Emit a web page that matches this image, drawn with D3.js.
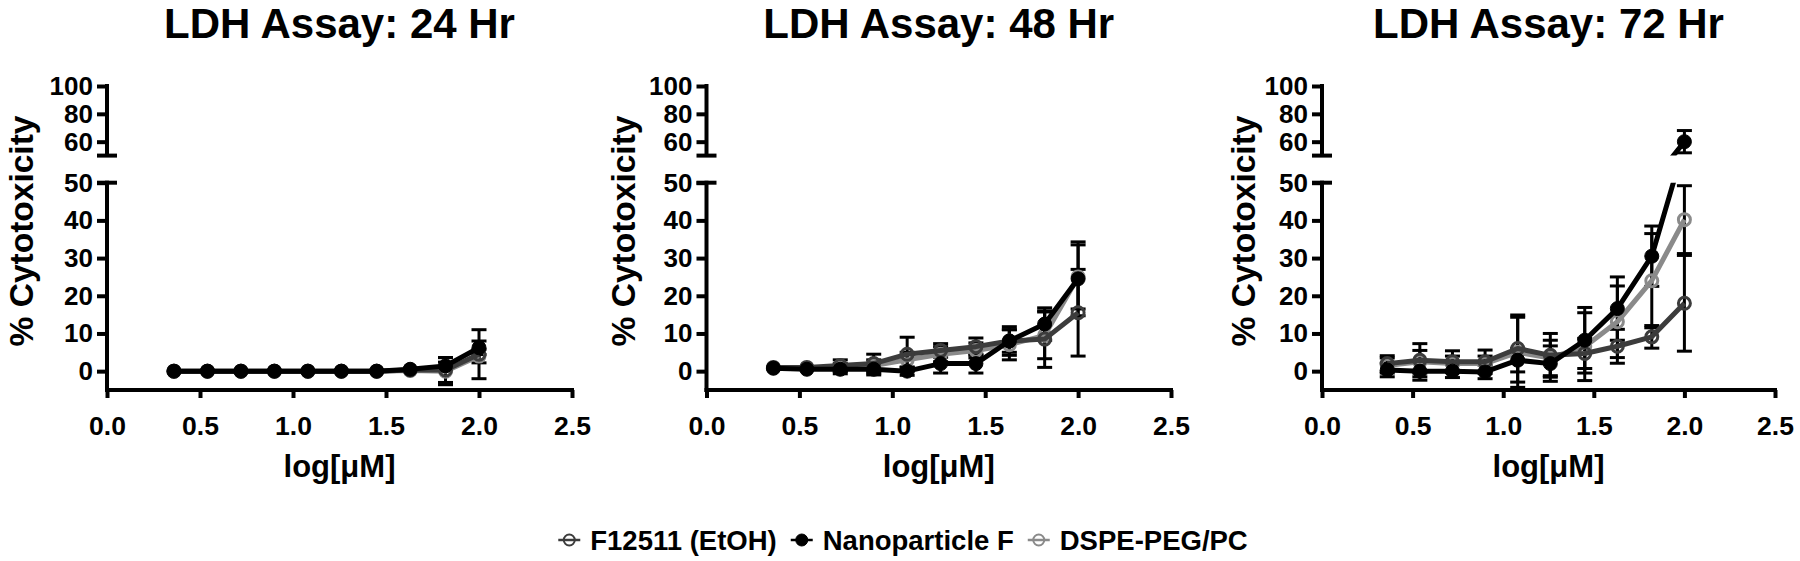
<!DOCTYPE html>
<html><head><meta charset="utf-8">
<script src="https://cdn.jsdelivr.net/npm/d3@7"></script>
<style>
body{margin:0;background:#fff}
text{font-family:"Liberation Sans",Arial,Helvetica,sans-serif;font-weight:bold;fill:#000}
</style>
</head><body>
<svg id="chart" width="1800" height="561"></svg>
<script>
// ---------- data ----------
const logConc = [0.36, 0.54, 0.72, 0.90, 1.08, 1.26, 1.45, 1.63, 1.82, 2.00];
const panelTitles = ["LDH Assay: 24 Hr", "LDH Assay: 48 Hr", "LDH Assay: 72 Hr"];
const seriesNames = ["F12511 (EtOH)", "Nanoparticle F", "DSPE-PEG/PC"];
const xTicks = [0, 0.5, 1.0, 1.5, 2.0, 2.5];
const yTicksLower = [0, 10, 20, 30, 40, 50];
const yTicksUpper = [60, 80, 100];

// 24 hr
const f12511_24   = [0, 0, 0, 0, 0, 0, 0, 0.3, 0.3, 4.5];
const f12511_24e  = [0.3, 0.3, 0.3, 0.3, 0.3, 0.3, 0.3, 0.5, 3.3, 6.5];
const nano_24     = [0, 0, 0, 0, 0, 0, 0, 0.5, 1.4, 6.2];
const nano_24e    = [0.2, 0.2, 0.2, 0.2, 0.2, 0.2, 0.2, 0.5, 1.0, 1.8];
const dspe_24     = [0, 0, 0, 0, 0, 0, 0, 0.2, 0.0, 4.0];
const dspe_24e    = [0.2, 0.2, 0.2, 0.2, 0.2, 0.2, 0.2, 0.4, 3.6, 1.8];
// 48 hr
const f12511_48   = [1.0, 1.0, 1.5, 2.0, 4.5, 5.5, 6.5, 8.0, 8.5, 15.5];
const f12511_48e  = [0.4, 0.4, 1.5, 2.5, 4.5, 1.8, 2.3, 3.0, 7.5, 11.5];
const nano_48     = [0.8, 0.5, 0.5, 0.5, 0.0, 2.0, 2.0, 8.0, 12.5, 24.5];
const nano_48e    = [0.4, 0.4, 1.2, 1.5, 1.1, 2.5, 2.5, 3.8, 4.3, 9.8];
const dspe_48     = [0.8, 0.8, 1.0, 1.5, 3.0, 4.5, 5.5, 7.0, 9.5, 25.0];
const dspe_48e    = [0.4, 0.4, 1.0, 1.5, 2.0, 2.0, 2.0, 4.0, 6.2, 8.5];
// 72 hr
const f12511_72   = [2.0, 2.9, 2.5, 2.5, 6.0, 4.2, 4.7, 6.6, 9.1, 18.0];
const f12511_72e  = [2.1, 4.4, 2.9, 3.1, 8.9, 5.8, 4.0, 4.5, 3.0, 12.7];
const nano_72     = [0.3, 0.0, 0.0, -0.2, 2.9, 2.0, 8.2, 16.6, 30.5, 60.0];
const nano_72e    = [1.8, 2.4, 1.7, 1.8, 3.1, 4.7, 8.7, 8.4, 8.0, 8.0];
const dspe_72     = [1.5, 2.5, 2.0, 2.0, 5.0, 3.5, 6.5, 13.1, 24.0, 40.2];
const dspe_72e    = [2.0, 3.0, 2.0, 2.0, 9.3, 4.7, 9.0, 9.5, 12.5, 9.0];

const panelData = [
  [[f12511_24, f12511_24e], [nano_24, nano_24e], [dspe_24, dspe_24e]],
  [[f12511_48, f12511_48e], [nano_48, nano_48e], [dspe_48, dspe_48e]],
  [[f12511_72, f12511_72e], [nano_72, nano_72e], [dspe_72, dspe_72e]]
];

// ---------- styling / layout ----------
const colors = ["#3c3c3c", "#000000", "#8a8a8a"];
const filled = [false, true, false];
const drawOrder = [2, 0, 1];
const panelX = [[107, 572], [706.5, 1171], [1322, 1775]];
const yLabelX = [24, 626, 1246];
const lowerRange = [390, 182.7];
const upperRange = [155.6, 86];
const AX = 4;

const svg = d3.select("#chart");
const defs = svg.append("defs");

panelTitles.forEach((title, p) => {
  const [x0, x1] = panelX[p];
  const x = d3.scaleLinear().domain([0, 2.5]).range([x0, x1]);
  const yL = d3.scaleLinear().domain([-5, 50]).range(lowerRange);
  const yU = d3.scaleLinear().domain([50, 100]).range(upperRange);
  const yOf = v => v > 50 ? yU(v) : yL(v);
  const g = svg.append("g");

  // title
  g.append("text").attr("x", (x0 + x1) / 2).attr("y", 38).attr("text-anchor", "middle")
    .attr("font-size", 42).text(title);

  // y label
  g.append("text").attr("transform", `translate(${yLabelX[p] + 8.5},231) rotate(-90)`)
    .attr("text-anchor", "middle").attr("font-size", 33.5).text("% Cytotoxicity");

  // x label
  g.append("text").attr("x", (x0 + x1) / 2).attr("y", 477).attr("text-anchor", "middle")
    .attr("font-size", 31).text("log[μM]");

  // x axis
  const xa = g.append("g").attr("transform", `translate(0,${lowerRange[0]})`)
    .call(d3.axisBottom(x).tickValues(xTicks).tickFormat(d3.format(".1f")).tickSize(8).tickSizeOuter(0).tickPadding(18));
  xa.select(".domain").remove();
  xa.append("line").attr("x1", x0 - AX / 2).attr("x2", x1 + AX / 2).attr("y1", 0).attr("y2", 0)
    .attr("stroke", "#000").attr("stroke-width", AX);
  xa.selectAll(".tick line").attr("stroke-width", AX);
  xa.selectAll(".tick text").attr("font-size", 26.5).attr("fill", "#000");

  // lower y axis
  const ya = g.append("g").attr("transform", `translate(${x0},0)`)
    .call(d3.axisLeft(yL).tickValues(yTicksLower).tickSize(10).tickSizeOuter(0).tickPadding(4));
  ya.select(".domain").remove();
  ya.append("line").attr("x1", 0).attr("x2", 0).attr("y1", lowerRange[0] + AX / 2).attr("y2", lowerRange[1] - AX / 2)
    .attr("stroke", "#000").attr("stroke-width", AX);
  ya.append("line").attr("x1", -10).attr("x2", 10).attr("y1", yL(50)).attr("y2", yL(50))
    .attr("stroke", "#000").attr("stroke-width", AX);
  ya.selectAll(".tick line").attr("stroke-width", AX);
  ya.selectAll(".tick text").attr("font-size", 26).attr("fill", "#000");

  // upper y axis
  const yu = g.append("g").attr("transform", `translate(${x0},0)`)
    .call(d3.axisLeft(yU).tickValues(yTicksUpper).tickSize(10).tickSizeOuter(0).tickPadding(4));
  yu.select(".domain").remove();
  yu.append("line").attr("x1", 0).attr("x2", 0).attr("y1", upperRange[0]).attr("y2", upperRange[1] - AX / 2)
    .attr("stroke", "#000").attr("stroke-width", AX);
  yu.append("line").attr("x1", -10).attr("x2", 10).attr("y1", upperRange[0]).attr("y2", upperRange[0])
    .attr("stroke", "#000").attr("stroke-width", AX);
  yu.selectAll(".tick line").attr("stroke-width", AX);
  yu.selectAll(".tick text").attr("font-size", 26).attr("fill", "#000");

  // clips
  defs.append("clipPath").attr("id", `clipL${p}`).append("rect")
    .attr("x", x0).attr("y", lowerRange[1]).attr("width", x1 - x0 + 20).attr("height", lowerRange[0] - lowerRange[1]);
  defs.append("clipPath").attr("id", `clipU${p}`).append("rect")
    .attr("x", x0).attr("y", upperRange[1] - 10).attr("width", x1 - x0 + 20).attr("height", upperRange[0] - upperRange[1] + 10);

  // error bars
  const eg = g.append("g");
  drawOrder.forEach(s => {
    const [vals, errs] = panelData[p][s];
    vals.forEach((v, i) => {
      const e = errs[i];
      if (e < 0.6) return;
      const cx = x(logConc[i]);
      const yt = yOf(v + e), yb = yOf(v - e);
      eg.append("line").attr("x1", cx).attr("x2", cx).attr("y1", yt).attr("y2", yb)
        .attr("stroke", "#000").attr("stroke-width", 3);
      [yt, yb].forEach(yy => eg.append("line").attr("x1", cx - 7.5).attr("x2", cx + 7.5)
        .attr("y1", yy).attr("y2", yy).attr("stroke", "#000").attr("stroke-width", 3));
    });
  });

  // lines + markers
  drawOrder.forEach(s => {
    const [vals] = panelData[p][s];
    const pts = vals.map((v, i) => [logConc[i], v]);
    const lineL = d3.line().x(d => x(d[0])).y(d => yL(d[1]));
    const lineU = d3.line().x(d => x(d[0])).y(d => yU(d[1]));
    g.append("path").attr("d", lineL(pts)).attr("fill", "none").attr("stroke", colors[s])
      .attr("stroke-width", 5).attr("stroke-linejoin", "round").attr("clip-path", `url(#clipL${p})`);
    if (d3.max(vals) > 50) {
      g.append("path").attr("d", lineU(pts)).attr("fill", "none").attr("stroke", colors[s])
        .attr("stroke-width", 5).attr("clip-path", `url(#clipU${p})`);
    }
    g.selectAll(null).data(pts).enter().append("circle")
      .attr("cx", d => x(d[0])).attr("cy", d => yOf(d[1]))
      .attr("r", filled[s] ? 7 : 6)
      .attr("fill", filled[s] ? colors[s] : "none")
      .attr("stroke", colors[s]).attr("stroke-width", filled[s] ? 1 : 3);
  });
});

// ---------- legend ----------
const leg = svg.append("g");
let cursor = 0;
const items = [];
seriesNames.forEach((name, s) => {
  const it = leg.append("g");
  it.append("line").attr("x1", 0).attr("x2", 22).attr("y1", 0).attr("y2", 0)
    .attr("stroke", colors[s]).attr("stroke-width", 2.5);
  it.append("circle").attr("cx", 11).attr("cy", 0).attr("r", filled[s] ? 6 : 5.5)
    .attr("fill", filled[s] ? colors[s] : "none").attr("stroke", colors[s]).attr("stroke-width", filled[s] ? 1 : 2);
  const t = it.append("text").attr("x", 32).attr("y", 0).attr("dy", "0.36em").attr("font-size", 27.5).text(name);
  const w = 32 + t.node().getComputedTextLength();
  items.push([it, cursor]);
  cursor += w + 14;
});
const total = cursor - 14;
const startX = 903 - total / 2;
items.forEach(([it, off]) => it.attr("transform", `translate(${startX + off},540)`));
</script>
</body></html>
